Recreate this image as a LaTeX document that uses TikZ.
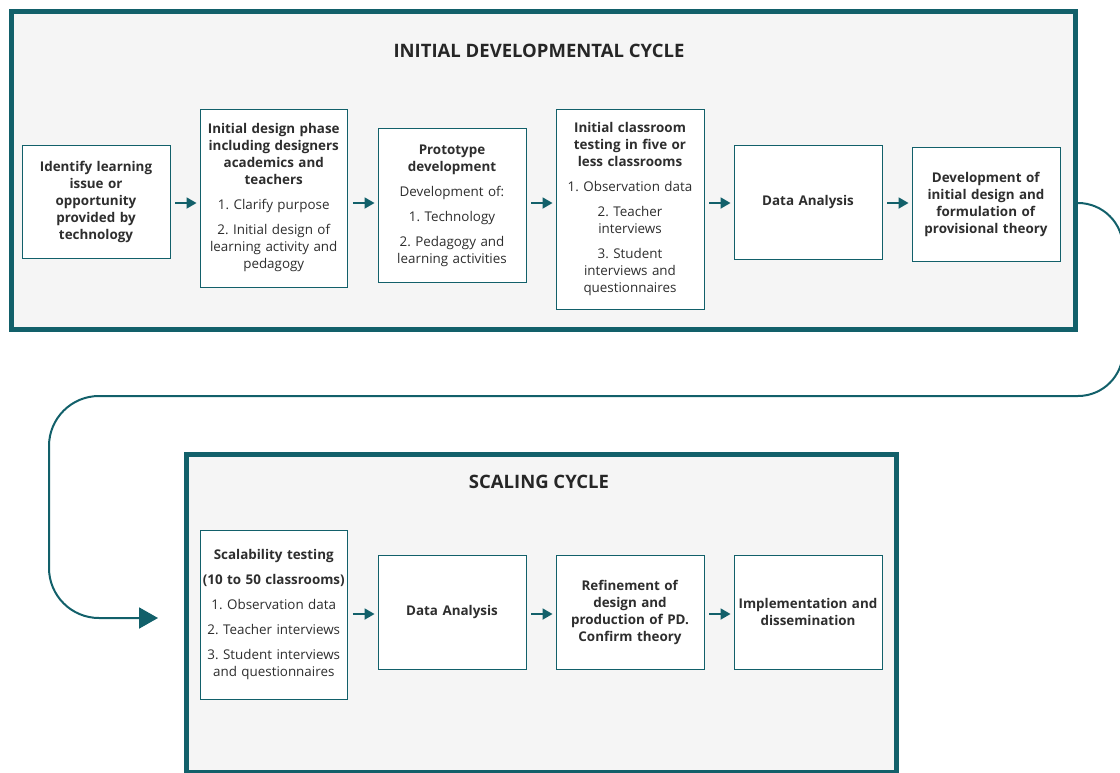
\documentclass[tikz,border=0pt]{standalone}
\usepackage{fontspec}
\setmainfont{Open Sans}
\usetikzlibrary{arrows.meta}
\definecolor{teal}{HTML}{12606A}
\definecolor{framefill}{HTML}{F5F5F5}
\definecolor{txt}{HTML}{2E2E2E}
\frenchspacing
\begin{document}
\begin{tikzpicture}[x=1pt,y=-1pt,
  frame/.style={draw=teal,line width=5pt,fill=framefill,inner sep=0pt},
  stepbox/.style={draw=teal,line width=0.9pt,fill=white,inner sep=0pt,align=center,
    text width=146pt,text=txt,font=\fontsize{13.4}{17}\selectfont\frenchspacing},
  title/.style={text=black!85,font=\fontsize{18.5}{22}\selectfont\bfseries},
  arr/.style={draw=teal,line width=1.8pt,-{Triangle[length=10pt,width=11pt]},shorten <=5pt,shorten >=3pt},
  loop/.style={draw=teal,line width=2pt,-{Triangle[length=19pt,width=21pt]}}
]
\useasboundingbox (0,0) rectangle (1120,772);
\clip (0,0) rectangle (1120,772);
% frames
\node[frame,minimum width=1064pt,minimum height=318pt] (F1) at (543.5,170.5) {};
\node[frame,minimum width=709.5pt,minimum height=318pt] (F2) at (541.25,613.5) {};
\node[title] (T1) at (539,51) {INITIAL DEVELOPMENTAL CYCLE};
\node[title] (T2) at (539,482) {SCALING CYCLE};
% row 1
\node[stepbox,minimum width=148pt,minimum height=113pt] (A) at (96,201.5)
  {\textbf{Identify learning}\\ \textbf{issue or}\\ \textbf{opportunity}\\ \textbf{provided by}\\ \textbf{technology}};
\node[stepbox,minimum width=147.5pt,minimum height=178pt] (B) at (273.75,198)
  {\textbf{Initial design phase}\\ \textbf{including designers}\\ \textbf{academics and}\\ \textbf{teachers}\\[8pt]
   1. Clarify purpose\\[8pt] 2. Initial design of\\ learning activity and\\ pedagogy};
\node[stepbox,minimum width=148pt,minimum height=154pt] (C) at (452,205.5)
  {\textbf{Prototype}\\ \textbf{development}\\[8pt] Development of:\\[8pt] 1. Technology\\[8pt] 2. Pedagogy and\\ learning activities};
\node[stepbox,minimum width=148pt,minimum height=200pt] (D) at (630,209)
  {\textbf{Initial classroom}\\ \textbf{testing in five or}\\ \textbf{less classrooms}\\[8pt]
   1. Observation data\\[8pt] 2. Teacher\\ interviews\\[8pt] 3. Student\\ interviews and\\ questionnaires};
\node[stepbox,minimum width=148pt,minimum height=114pt] (E) at (808,202)
  {\textbf{Data Analysis}};
\node[stepbox,minimum width=148pt,minimum height=114pt] (F) at (986,204)
  {\textbf{Development of}\\ \textbf{initial design and}\\ \textbf{formulation of}\\ \textbf{provisional theory}};
% row 2
\node[stepbox,minimum width=147.5pt,minimum height=169pt] (G) at (273.75,614.5)
  {\textbf{Scalability testing}\\[8pt] \textbf{(10 to 50 classrooms)}\\[8pt] 1. Observation data\\[8pt]
   2. Teacher interviews\\[8pt] 3. Student interviews\\ and questionnaires};
\node[stepbox,minimum width=148pt,minimum height=114pt] (H) at (452,612)
  {\textbf{Data Analysis}};
\node[stepbox,minimum width=148pt,minimum height=114pt] (I) at (630,612)
  {\textbf{Refinement of}\\ \textbf{design and}\\ \textbf{production of PD.}\\ \textbf{Confirm theory}};
\node[stepbox,minimum width=148pt,minimum height=114pt] (J) at (808,612)
  {\textbf{Implementation and}\\ \textbf{dissemination}};
% arrows
\coordinate (r1) at (0,203);
\coordinate (r2) at (0,614);
\draw[arr] (A.east |- r1) -- (B.west |- r1);
\draw[arr] (B.east |- r1) -- (C.west |- r1);
\draw[arr] (C.east |- r1) -- (D.west |- r1);
\draw[arr] (D.east |- r1) -- (E.west |- r1);
\draw[arr] (E.east |- r1) -- (F.west |- r1);
\draw[arr] (G.east |- r2) -- (H.west |- r2);
\draw[arr] (H.east |- r2) -- (I.west |- r2);
\draw[arr] (I.east |- r2) -- (J.west |- r2);
% loop connector
\coordinate (c1) at (1123,203);
\coordinate (c2) at (1123,396);
\coordinate (c3) at (49,396);
\coordinate (c4) at (49,618);
\coordinate (tip) at (158,618);
\draw[loop] ([xshift=2.5pt]F1.east |- r1) [rounded corners=45pt] -- (c1) -- (c2) -- ([xshift=200pt]c3) [rounded corners=50pt] -- (c3) -- (c4) [sharp corners] -- (tip);
\end{tikzpicture}
\end{document}
